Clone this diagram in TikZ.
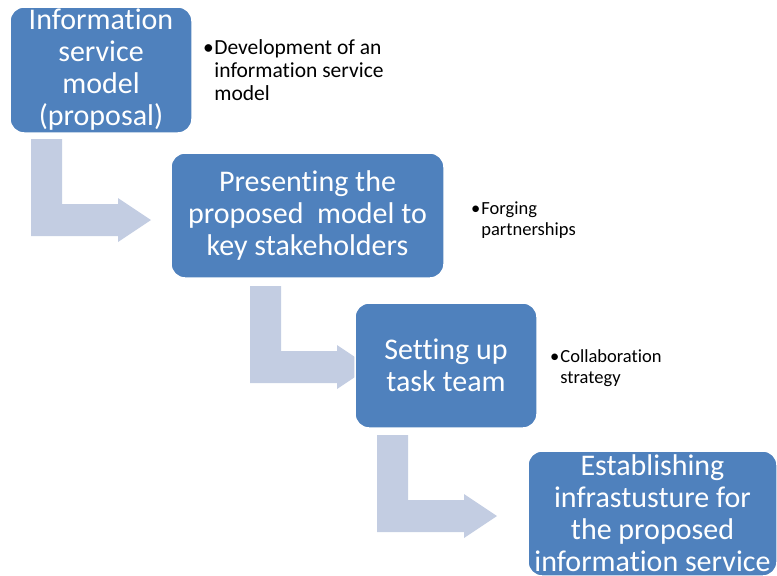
\documentclass[tikz,border=0pt]{standalone}
\usepackage{fontspec}
\setmainfont[Ligatures=NoCommon]{Carlito}
\usetikzlibrary{positioning, calc, backgrounds}
\definecolor{stageblue}{HTML}{4F81BD}
\definecolor{flowgray}{HTML}{C3CDE2}
\tikzstyle{stage} = [rectangle, rounded corners=14pt, fill=stageblue, draw=white, line width=1.5pt, outer sep=0pt, text=white, align=center, inner sep=0pt, minimum height=125pt, font=\fontsize{30}{32}\selectfont]
\tikzstyle{note} = [inner sep=0pt, align=left, yshift=-3pt]
\newcommand{\bentarrow}[1]{\fill [flowgray, shift={(#1)}] (0,0) -- (31,0) -- (31,65) -- (87,65) -- (87,59) -- (120,81) -- (87,103) -- (87,97) -- (0,97) -- cycle;}

\begin{document}
\begin{tikzpicture}[x=1pt, y=-1pt]
			\clip (0,0) rectangle (777,576);
			% Nodes
			\node (info) [stage, anchor=north west, minimum width=182pt, minimum height=126pt] at (10,7) {Information\\service\\model\\(proposal)};
			\node (present) [stage, below right=20pt and -21pt of info, minimum width=273pt] {Presenting the\\proposed\ \ model to\\key stakeholders};
			\node (team) [stage, below right=25pt and -89pt of present, minimum width=182pt] {Setting up\\task team};
			\node (infra) [stage, below right=23pt and -9pt of team, minimum width=249pt] {Establishing\\infrastusture for\\the proposed\\information service};
			% Notes
			\node (devnote) [note, right=11pt of info, font=\fontsize{21.5}{23}\selectfont] {\begin{tabular}{@{}l@{\hspace{0.5pt}}l@{}}\textbullet & Development of an\\ & information service\\ & model\end{tabular}};
			\node (forgenote) [note, right=27pt of present, yshift=-2.5pt, font=\fontsize{18.5}{20.5}\selectfont] {\begin{tabular}{@{}l@{\hspace{1pt}}l@{}}\textbullet & Forging\\ & partnerships\end{tabular}};
			\node (collabnote) [note, right=13pt of team, font=\fontsize{18.5}{21}\selectfont] {\begin{tabular}{@{}l@{\hspace{1pt}}l@{}}\textbullet & Collaboration\\ & strategy\end{tabular}};
			% Arrows
			\begin{scope}[on background layer]
				\bentarrow{$(info.south west)+(21,6)$}
				\bentarrow{$(present.south west)+(79,8)$}
				\bentarrow{$(team.south west)+(22,7)$}
			\end{scope}
		\end{tikzpicture}
\end{document}
